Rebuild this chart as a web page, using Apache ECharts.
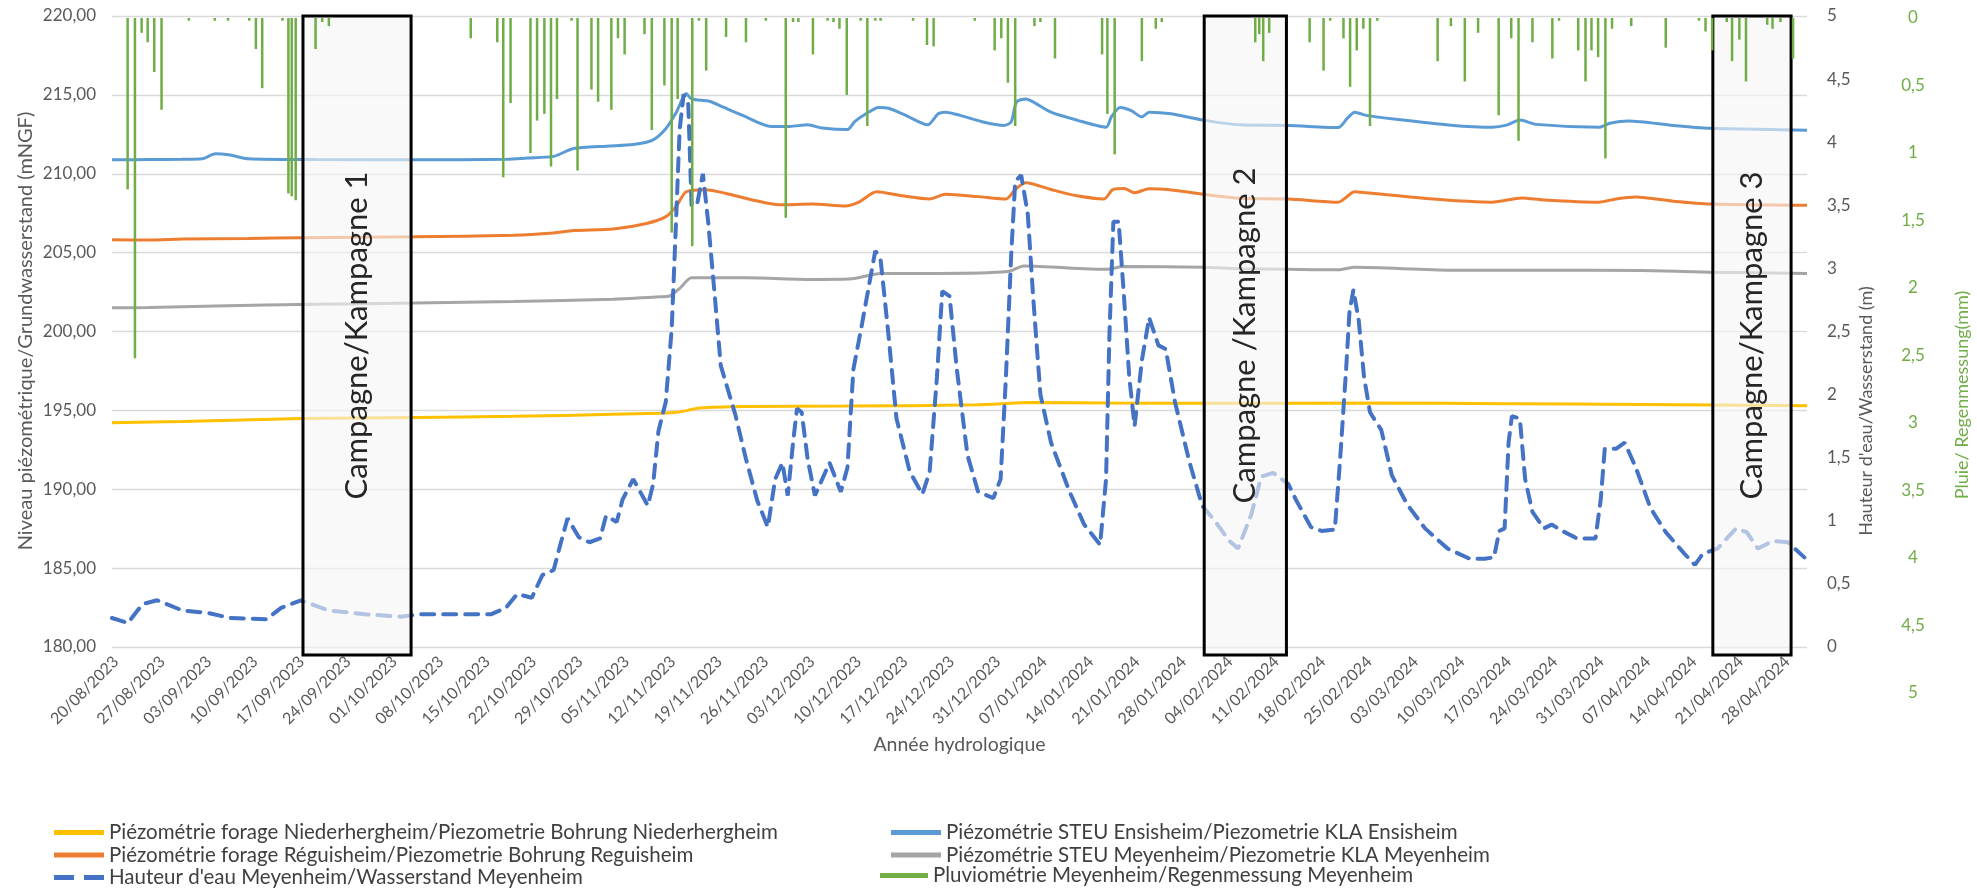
<!DOCTYPE html>
<html>
<head>
<meta charset="utf-8">
<title>Niveaux piézométriques et pluviométrie 2023-2024</title>
<script src="https://cdn.jsdelivr.net/npm/echarts/dist/echarts.min.js"></script>
<style>
  html, body { margin: 0; padding: 0; background: #ffffff; }
  #chart { width: 1977px; height: 889px; }
</style>
</head>
<body>
<div id="chart"></div>
<script>
// Day offsets are counted from the first week label (20/08/2023).
const weekLabels = [
  '20/08/2023','27/08/2023','03/09/2023','10/09/2023','17/09/2023','24/09/2023',
  '01/10/2023','08/10/2023','15/10/2023','22/10/2023','29/10/2023','05/11/2023',
  '12/11/2023','19/11/2023','26/11/2023','03/12/2023','10/12/2023','17/12/2023',
  '24/12/2023','31/12/2023','07/01/2024','14/01/2024','21/01/2024','28/01/2024',
  '04/02/2024','11/02/2024','18/02/2024','25/02/2024','03/03/2024','10/03/2024',
  '17/03/2024','24/03/2024','31/03/2024','07/04/2024','14/04/2024','21/04/2024',
  '28/04/2024'
];

// Piézométrie forage Niederhergheim (mNGF)
const niederDays   = [-0.6, 10, 28, 45, 60, 75, 82, 85, 88, 95, 110, 130, 138, 150, 170, 190, 210, 230, 255];
const niederLevels = [194.22, 194.3, 194.48, 194.55, 194.62, 194.75, 194.82, 194.9, 195.15, 195.25, 195.27, 195.35, 195.5, 195.47, 195.45, 195.46, 195.42, 195.38, 195.3];

// Piézométrie forage Réguisheim (mNGF)
const reguDays = [-0.6, 5, 10, 20, 28, 45, 60, 66, 69, 75, 80, 83, 84.5, 86, 89, 92, 96, 100, 105, 110,
  112, 114.7, 118.6, 122.7, 125.1, 130, 134.2, 135.6, 137.2, 141, 144.9, 149, 150.3, 152, 153.6, 155.8,
  158.6, 164, 169.4, 176.8, 184.3, 186.8, 188.5, 198.6, 207.5, 212, 215.3, 223.6, 226.4, 229.2, 234.8, 240.4, 255];
const reguLevels = [205.82, 205.8, 205.86, 205.9, 205.95, 206.0, 206.1, 206.25, 206.4, 206.5, 206.85, 207.3, 207.95, 208.86, 208.99, 208.75, 208.34, 208.03, 208.08, 207.95,
  208.2, 208.86, 208.6, 208.4, 208.7, 208.55, 208.4, 209.0, 209.43, 209.0, 208.6, 208.4, 209.0, 209.07, 208.8, 209.05,
  209.0, 208.7, 208.45, 208.4, 208.2, 208.86, 208.8, 208.4, 208.2, 208.47, 208.34, 208.2, 208.42, 208.52, 208.26, 208.08, 208.0];

// Piézométrie STEU Ensisheim (mNGF)
const ensiDays = [-0.6, 5, 10, 13, 15, 17, 20, 30, 45, 59, 62, 66, 69, 74, 78, 81, 83, 84.5, 86, 86.8,
  89.5, 91.7, 94.5, 98.8, 101.6, 104.3, 106.5, 110.3, 111.4, 113.1, 115, 116.5, 119.1, 122.4, 124, 125.1,
  127.3, 130.6, 133.9, 135, 135.8, 137.2, 138.3, 141, 144.9, 149.3, 150.1, 151.4, 153.1, 154.7, 155.8,
  159.1, 164, 169.4, 176.8, 184.3, 185.7, 186.8, 188.5, 193, 201.3, 207.5, 209.7, 211.7, 214.2, 223.6,
  225.3, 228.1, 234.8, 240.4, 247.6, 255];
const ensiLevels = [210.88, 210.9, 210.92, 210.95, 211.27, 211.2, 210.95, 210.9, 210.88, 210.92, 211.0, 211.1, 211.6, 211.75, 211.85, 212.15, 212.9, 213.9, 215.08, 214.74,
  214.6, 214.2, 213.7, 213.0, 213.0, 213.1, 212.9, 212.8, 213.3, 213.8, 214.2, 214.15, 213.7, 213.1, 213.8, 213.9,
  213.7, 213.3, 213.06, 213.3, 214.56, 214.74, 214.56, 213.9, 213.4, 212.95, 213.6, 214.2, 214.0, 213.6, 213.9,
  213.8, 213.4, 213.1, 213.06, 212.93, 213.52, 213.9, 213.7, 213.45, 213.08, 212.95, 213.08, 213.4, 213.13, 212.95,
  213.2, 213.34, 213.06, 212.88, 212.82, 212.75];

// Piézométrie STEU Meyenheim (mNGF)
const meyenDays   = [-0.6, 5, 15, 30, 45, 60, 75, 82, 83.5, 85.1, 86.8, 95, 105.4, 111, 115.3, 124, 134.5, 136.9, 149.3, 152, 164, 169.4, 176.8, 184.3, 186.8, 201.3, 215, 230, 240.4, 255];
const meyenLevels = [201.5, 201.52, 201.62, 201.72, 201.8, 201.9, 202.05, 202.2, 202.25, 202.77, 203.4, 203.4, 203.3, 203.34, 203.68, 203.68, 203.8, 204.15, 203.94, 204.12, 204.07, 203.98, 203.94, 203.91, 204.07, 203.89, 203.89, 203.86, 203.76, 203.68];

// Hauteur d'eau Meyenheim (m)
const waterDays = [-0.6, 1.8, 4, 6.2, 10, 13.9, 17.2, 22.7, 24.9, 27.9, 32, 37.5, 43, 45.7, 51, 56.6, 58.8, 60.5, 62.7, 64.3,
  66, 67, 68.1, 69.8, 71.4, 73, 73.9, 75.5, 76.4, 78, 80.2, 81, 81.8, 82.9, 83.8, 84.3, 85, 85.6, 86.3, 86.8,
  87.6, 88.5, 89.3, 90.3, 91.2, 93.4, 95, 96.7, 98.3, 99.4, 100.5, 101.3, 102.1, 102.7, 103.4, 104.3, 105.4, 107.6, 109.3, 110.3,
  111.2, 112.5, 114.5, 115.3, 116.4, 117.7, 119.7, 121.6, 122.7, 123.8, 124.6, 125.7, 126.8, 128.4, 130, 132.3, 133.4, 134.2, 135, 135.6,
  136.5, 137.5, 138.3, 139.4, 141, 143.8, 146, 148.4, 149.3, 149.8, 150.4, 151.2, 152, 152.8, 153.6, 154.7, 155.8, 157.2, 158.3, 159.7,
  161.9, 163.8, 165.7, 167.9, 169.2, 171.2, 172.7, 174.5, 176.8, 177.9, 180.2, 181.8, 183.8, 184.6, 185.5, 186, 186.6, 187.4, 188.2, 189.1,
  190.8, 192.4, 194.7, 197.4, 200.8, 204.1, 206.4, 207.8, 208.6, 209.4, 210, 210.5, 211.7, 212.5, 213.6, 215.3, 216.5, 218.1, 220.3, 223.1,
  223.9, 224.5, 226.2, 227.5, 229.2, 231.4, 233.7, 236.5, 238.1, 239.3, 241.5, 244.3, 245.9, 247.6, 249.8, 252.1, 254.6];
const waterHeights = [0.23, 0.19, 0.34, 0.37, 0.29, 0.27, 0.23, 0.22, 0.31, 0.37, 0.29, 0.26, 0.24, 0.26, 0.26, 0.26, 0.31, 0.42, 0.39, 0.57,
  0.61, 0.81, 1.02, 0.87, 0.83, 0.86, 1.04, 0.99, 1.17, 1.33, 1.12, 1.29, 1.71, 1.94, 2.52, 3.17, 4.1, 4.38, 4.3, 3.5,
  3.5, 3.75, 3.37, 2.78, 2.23, 1.84, 1.49, 1.16, 0.95, 1.33, 1.46, 1.2, 1.62, 1.89, 1.86, 1.49, 1.2, 1.46, 1.23, 1.42,
  2.2, 2.56, 3.14, 3.07, 2.52, 1.81, 1.39, 1.21, 1.39, 2.14, 2.82, 2.78, 2.2, 1.52, 1.23, 1.18, 1.33, 2.14, 3.11, 3.69,
  3.74, 3.43, 2.78, 2.0, 1.62, 1.23, 0.97, 0.81, 1.33, 2.46, 3.37, 3.37, 2.78, 2.14, 1.75, 2.27, 2.61, 2.39, 2.36, 1.94,
  1.46, 1.12, 1.0, 0.84, 0.78, 1.05, 1.35, 1.38, 1.29, 1.17, 0.95, 0.92, 0.93, 1.49, 2.2, 2.65, 2.83, 2.59, 2.14, 1.86,
  1.72, 1.36, 1.13, 0.94, 0.78, 0.7, 0.7, 0.71, 0.92, 0.94, 1.62, 1.83, 1.81, 1.33, 1.07, 0.94, 0.97, 0.92, 0.86, 0.86,
  1.17, 1.57, 1.57, 1.62, 1.42, 1.1, 0.91, 0.74, 0.65, 0.74, 0.78, 0.94, 0.91, 0.78, 0.84, 0.83, 0.71];

// Pluviométrie Meyenheim (mm)
const rainDays = [1.76, 2.86, 3.87, 4.78, 5.77, 6.87, 10.98, 14.9, 16.9, 20.1, 21.1, 22.05, 25.1, 26.0, 26.5, 27.1, 30.1, 31.1, 32.1,
  53.5, 57.5, 58.4, 59.5, 62.5, 63.5, 64.6, 65.6, 66.5, 68.7, 69.6, 71.7, 72.7, 74.7, 75.7, 76.7, 79.7, 80.8, 82.7, 83.8, 84.7,
  86.9, 87.9, 89.0, 92.0, 95.0, 98.0, 101.0, 102.1, 102.9, 105.1, 107.3, 108.2, 109.1, 110.2, 112.3, 113.3, 114.5, 115.3,
  120.2, 122.3, 123.3, 129.5, 132.5, 133.5, 134.5, 135.6, 138.5, 139.4, 141.6, 148.7, 149.5, 150.6, 154.7, 156.8, 157.7,
  171.8, 172.4, 173.0, 173.9, 180.0, 182.1, 183.1, 185.1, 186.1, 187.1, 188.1, 189.1, 190.2, 199.3, 201.3, 203.4, 205.4,
  208.5, 210.4, 211.5, 213.6, 216.6, 217.6, 220.5, 221.6, 222.5, 223.5, 224.6, 225.6, 228.5, 233.7, 238.7, 239.7, 240.7,
  242.9, 243.7, 244.8, 245.8, 249.0, 249.8, 251.0, 252.9];
const rainMm = [1.27, 2.52, 0.11, 0.18, 0.40, 0.68, 0.02, 0.02, 0.02, 0.02, 0.23, 0.52, 0.02, 1.30, 1.32, 1.35, 0.23, 0.03, 0.06,
  0.15, 0.18, 1.18, 0.63, 1.0, 0.76, 0.71, 1.10, 0.60, 0.02, 1.13, 0.53, 0.62, 0.68, 0.15, 0.27, 0.12, 0.83, 0.50, 1.59, 0.60,
  1.69, 0.02, 0.39, 0.14, 0.18, 0.02, 1.48, 0.03, 0.03, 0.27, 0.02, 0.03, 0.08, 0.57, 0.02, 0.80, 0.02, 0.02,
  0.02, 0.20, 0.21, 0.02, 0.24, 0.15, 0.48, 0.80, 0.06, 0.03, 0.30, 0.27, 0.71, 1.01, 0.32, 0.08, 0.03,
  0.18, 0.12, 0.32, 0.11, 0.18, 0.39, 0.02, 0.15, 0.51, 0.24, 0.08, 0.80, 0.02, 0.32, 0.06, 0.47, 0.11,
  0.72, 0.15, 0.91, 0.18, 0.30, 0.02, 0.24, 0.47, 0.24, 0.29, 1.04, 0.08, 0.06, 0.22, 0.02, 0.10, 0.24,
  0.03, 0.32, 0.16, 0.47, 0.05, 0.08, 0.03, 0.30];

// Sampling campaigns (start / end, in days)
const campaignNames = ['Campagne/Kampagne 1', 'Campagne /Kampagne 2', 'Campagne/Kampagne 3'];
const campaignStart = [28.2, 164.1, 240.8];
const campaignEnd   = [44.5, 176.5, 252.6];

const FONT = 'Lato, "Noto Sans", sans-serif';
const GREY_TEXT = '#595959';
const GREEN = '#70AD47';

const baseUTC = Date.UTC(2023, 7, 20);
function labelToDay(s) {
  const p = s.split('/');
  return Math.round((Date.UTC(+p[2], +p[1] - 1, +p[0]) - baseUTC) / 86400000);
}
const tickDays = weekLabels.map(labelToDay);
const dayToLabel = {};
tickDays.forEach((d, i) => { dayToLabel[d] = weekLabels[i]; });

const zip = (xs, ys) => xs.map((x, i) => [x, ys[i]]);
const comma = v => String(v).replace('.', ',');

const X_MIN = -0.6, X_MAX = 255;

const names = {
  nieder: 'Piézométrie forage Niederhergheim/Piezometrie Bohrung Niederhergheim',
  regu: 'Piézométrie forage Réguisheim/Piezometrie Bohrung Reguisheim',
  water: "Hauteur d'eau Meyenheim/Wasserstand Meyenheim",
  ensi: 'Piézométrie STEU Ensisheim/Piezometrie KLA Ensisheim',
  meyen: 'Piézométrie STEU Meyenheim/Piezometrie KLA Meyenheim',
  rain: 'Pluviométrie Meyenheim/Regenmessung Meyenheim'
};

// legend keys: a flat bar for solid lines, two short dashes for the water level
const ICON_SOLID = 'rect';
const ICON_DASHED = 'path://M0,0h20v5h-20z M30,0h20v5h-20z';

const chart = echarts.init(document.getElementById('chart'), null, { renderer: 'canvas' });

const legendText = { fontFamily: FONT, fontSize: 20.5, color: '#404040', lineHeight: 20 };
const legendBase = {
  orient: 'vertical', padding: 0, itemGap: 1.5, itemWidth: 50, itemHeight: 5,
  textStyle: legendText, selectedMode: false
};

function solidLine(name, days, vals, color) {
  return {
    name, type: 'line', xAxisIndex: 0, yAxisIndex: 0,
    data: zip(days, vals), symbol: 'none', smooth: 0.25, z: 2,
    lineStyle: { color, width: 3 }, itemStyle: { color }
  };
}

const option = {
  animation: false,
  backgroundColor: '#ffffff',
  textStyle: { fontFamily: FONT },
  grid: [
    { left: 112, right: 170, top: 16, bottom: 242 },
    { left: 112, right: 170, top: 18, height: 675 }
  ],
  legend: [
    Object.assign({}, legendBase, {
      left: 54, top: 822,
      data: [
        { name: names.nieder, icon: ICON_SOLID },
        { name: names.regu, icon: ICON_SOLID },
        { name: names.water, icon: ICON_DASHED }
      ]
    }),
    Object.assign({}, legendBase, {
      left: 891, top: 822,
      data: [
        { name: names.ensi, icon: ICON_SOLID },
        { name: names.meyen, icon: ICON_SOLID }
      ]
    }),
    Object.assign({}, legendBase, {
      left: 880, top: 865, itemWidth: 48,
      data: [{ name: names.rain, icon: ICON_SOLID }]
    })
  ],
  xAxis: [
    {
      type: 'value', gridIndex: 0, min: X_MIN, max: X_MAX,
      name: 'Année hydrologique', nameLocation: 'middle', nameGap: 88,
      nameTextStyle: { fontFamily: FONT, fontSize: 19.5, color: GREY_TEXT },
      axisLine: { show: false }, axisTick: { show: false }, splitLine: { show: false },
      axisLabel: {
        customValues: tickDays, rotate: 45, margin: 12,
        fontFamily: FONT, fontSize: 16, color: GREY_TEXT,
        formatter: v => dayToLabel[Math.round(v)] || ''
      }
    },
    {
      type: 'value', gridIndex: 1, min: X_MIN, max: X_MAX, show: false
    }
  ],
  yAxis: [
    {
      type: 'value', gridIndex: 0, position: 'left', min: 180, max: 220, interval: 5,
      axisLine: { show: false }, axisTick: { show: false },
      axisLabel: { margin: 16, fontFamily: FONT, fontSize: 17, color: GREY_TEXT, formatter: v => v.toFixed(2).replace('.', ',') },
      splitLine: { lineStyle: { color: '#d9d9d9', width: 1.3 } }
    },
    {
      type: 'value', gridIndex: 0, position: 'right', min: 0, max: 5, interval: 0.5,
      axisLine: { show: false }, axisTick: { show: false }, splitLine: { show: false },
      axisLabel: { margin: 20, fontFamily: FONT, fontSize: 17, color: GREY_TEXT, formatter: comma }
    },
    {
      type: 'value', gridIndex: 1, position: 'right', offset: 90, inverse: true, min: 0, max: 5, interval: 0.5,
      axisLine: { show: false }, axisTick: { show: false }, splitLine: { show: false },
      axisLabel: { margin: 16, align: 'center', fontFamily: FONT, fontSize: 17, color: GREEN, formatter: comma }
    }
  ],
  series: [
    solidLine(names.nieder, niederDays, niederLevels, '#FFC000'),
    solidLine(names.regu, reguDays, reguLevels, '#ED7D31'),
    solidLine(names.ensi, ensiDays, ensiLevels, '#5B9BD5'),
    solidLine(names.meyen, meyenDays, meyenLevels, '#A5A5A5'),
    {
      name: names.water, type: 'line', xAxisIndex: 0, yAxisIndex: 1,
      data: zip(waterDays, waterHeights), symbol: 'none', z: 2,
      lineStyle: { color: '#4472C4', width: 4, type: [13, 9], cap: 'round' },
      itemStyle: { color: '#4472C4' }
    },
    {
      name: names.rain, type: 'bar', xAxisIndex: 1, yAxisIndex: 2,
      data: zip(rainDays, rainMm), barWidth: 2.5, z: 4,
      itemStyle: { color: GREEN }
    }
  ]
};

chart.setOption(option);

// Campaign frames and axis titles, placed through the axes' own scales
function overlay() {
  const yTop = chart.convertToPixel({ yAxisIndex: 0 }, 220);
  const yBottom = chart.convertToPixel({ yAxisIndex: 0 }, 180) + 8;
  const elements = [];
  campaignNames.forEach((label, i) => {
    const x0 = chart.convertToPixel({ xAxisIndex: 0 }, campaignStart[i]);
    const x1 = chart.convertToPixel({ xAxisIndex: 0 }, campaignEnd[i]);
    elements.push({
      type: 'rect', z: 3, silent: true,
      shape: { x: x0, y: yTop, width: x1 - x0, height: yBottom - yTop },
      style: { fill: 'rgba(246,246,246,0.62)', stroke: '#000000', lineWidth: 3 }
    });
    elements.push({
      type: 'text', z: 10, silent: true,
      x: (x0 + x1) / 2, y: (yTop + yBottom) / 2, rotation: Math.PI / 2,
      style: { text: label, font: '31px ' + FONT, fill: '#262626', align: 'center', verticalAlign: 'middle' }
    });
  });
  const titles = [
    { text: 'Niveau piézométrique/Grundwasserstand (mNGF)', x: 26, y: 331, color: GREY_TEXT, size: 20 },
    { text: "Hauteur d'eau/Wasserstand (m)", x: 1866, y: 411, color: GREY_TEXT, size: 18 },
    { text: 'Pluie/ Regenmessung(mm)', x: 1962, y: 395, color: GREEN, size: 18 }
  ];
  titles.forEach(t => elements.push({
    type: 'text', z: 10, silent: true, x: t.x, y: t.y, rotation: Math.PI / 2,
    style: { text: t.text, font: t.size + 'px ' + FONT, fill: t.color, align: 'center', verticalAlign: 'middle' }
  }));
  chart.setOption({ graphic: { elements } });
}
overlay();
</script>
</body>
</html>
